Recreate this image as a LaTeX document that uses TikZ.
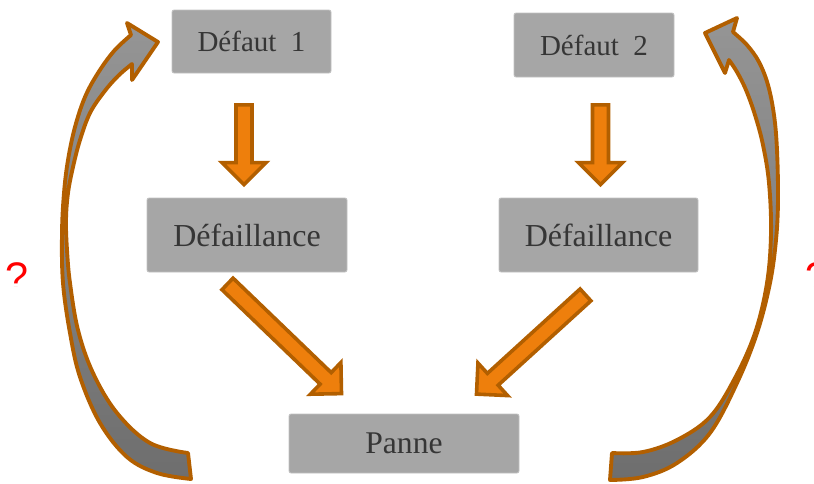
\documentclass[tikz,border=0pt]{standalone}
\usepackage{fontspec}
\setmainfont{Liberation Serif}
\newfontfamily\qfont{Liberation Sans}
\usetikzlibrary{calc}

\definecolor{boxgray}{HTML}{A6A6A6}
\definecolor{boxedge}{HTML}{C2C2C2}
\definecolor{txtgray}{HTML}{363636}
\definecolor{orfill}{HTML}{EE7F0C}
\definecolor{orline}{HTML}{B25F00}
\definecolor{arrtop}{HTML}{959595}
\definecolor{arrmid}{HTML}{C6C6C6}
\definecolor{arrbot}{HTML}{6E6E6E}

\tikzset{
  box/.style={fill=boxgray, draw=boxedge, line width=0.6pt, rounded corners=1.5pt,
              text=txtgray, inner sep=0pt, align=center},
  flowarrow/.style={fill=orfill, draw=orline, line width=2.7pt, line join=miter},
  looparrow/.style={draw=orline, line width=2.9pt, line join=round,
              top color=arrtop, middle color=arrmid, bottom color=arrbot},
  qmark/.style={text=red, inner sep=0pt, font=\qfont\fontsize{31}{33}\selectfont},
}

% straight block arrow from #1 (tail centre) to #2 (tip)
\newcommand\blockarrow[2]{%
  \coordinate (ba-h) at ($(#2)!16.5pt!(#1)$);
  \draw[flowarrow]
    ($(#1)!6pt!90:(#2)$) -- ($(ba-h)!6pt!90:(#2)$) -- ($(ba-h)!16.5pt!90:(#2)$)
    -- (#2)
    -- ($(ba-h)!16.5pt!-90:(#2)$) -- ($(ba-h)!6pt!-90:(#2)$) -- ($(#1)!6pt!-90:(#2)$)
    -- cycle;
}

\begin{document}
\begin{tikzpicture}[x=0.75pt, y=-0.75pt]
\useasboundingbox (0,0) rectangle (814,483);

% feedback arrows, left and right
\draw[looparrow]
  plot[smooth, tension=0.6] coordinates {(191,479) (157,473) (127,457) (100,423) (80,377)
     (70,333) (63,283) (62,233) (64,193) (68,160) (75,127) (85,97) (98,73) (114,51) (131,35)}
  -- (127,23) -- (158,42) -- (132,80)
  -- plot[smooth, tension=0.6] coordinates {(132,64) (118,76) (104,92) (90,113) (80,140)
     (73,167) (68,193) (66,220) (67,250) (70,283) (78,330) (93,373) (117,413) (150,443) (188,453)}
  -- cycle;

\draw[looparrow]
  plot[smooth, tension=0.6] coordinates {(610,480) (643,477) (677,463) (710,433) (737,383)
     (757,333) (770,283) (776,240) (778,200) (777,150) (774,115) (768,85) (759,62) (747,45) (733,32)}
  -- (737,18) -- (705,33) -- (725,73)
  -- plot[smooth, tension=0.6] coordinates {(729,60) (737,72) (746,90) (755,115) (763,145)
     (769,183) (771,233) (767,283) (755,333) (735,378) (710,417) (677,440) (643,452) (612,453)}
  -- cycle;

% boxes
\node[box, font=\fontsize{21.75}{26}\selectfont, minimum width=119.25pt, minimum height=47.25pt]
  (d1) at (251.5,41.5) {Défaut~~1};
\node[box, font=\fontsize{21.75}{26}\selectfont, minimum width=120pt, minimum height=48pt]
  (d2) at (594,45) {Défaut~~2};
\node[box, font=\fontsize{24}{28}\selectfont, minimum width=150pt, minimum height=55.5pt]
  (f1) at (247,235) {Défaillance};
\node[box, font=\fontsize{24}{28}\selectfont, minimum width=149.25pt, minimum height=55.5pt]
  (f2) at (598.5,235) {Défaillance};
\node[box, font=\fontsize{23.7}{28}\selectfont, minimum width=172.5pt, minimum height=44.25pt]
  (p) at (404,443.5) {Panne};

% flow arrows between the boxes
\blockarrow{$(d1.south)+(-7.5,31.5)$}{$(f1.north)+(-3,-13)$}
\blockarrow{$(d2.south)+(6.5,27.5)$}{$(f2.north)+(2,-13)$}
\blockarrow{$(f1.south)+(-19.5,11.5)$}{$(p.north)+(-62.5,-20)$}
\blockarrow{$(f2.south)+(-13,22.5)$}{$(p.north)+(72.5,-19.5)$}

% question marks
\begin{scope}
  \clip (0,250) rectangle (814,286.5);
  \node[qmark, anchor=north west] (q1) at (5,262) {?};
  \node[qmark, anchor=north west] (q2) at (805,262) {?};
\end{scope}
\end{tikzpicture}
\end{document}
